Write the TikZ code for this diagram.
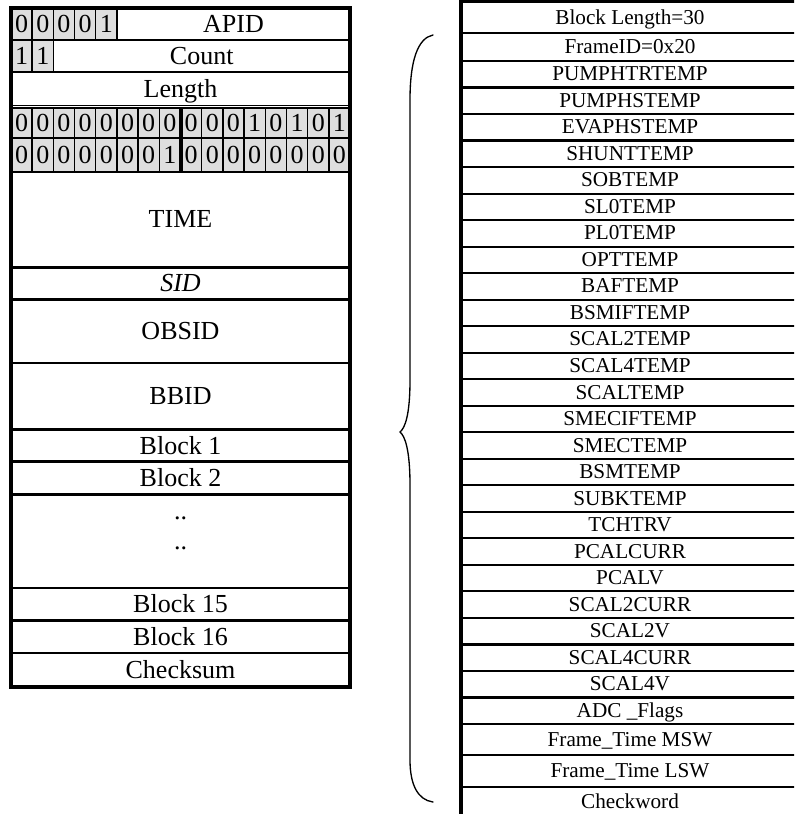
\documentclass[tikz,border=0pt]{standalone}
\usepackage{fontspec}
\setmainfont{Liberation Serif}
\usepackage{tikz}
\usetikzlibrary{calc}
\definecolor{bitgray}{HTML}{DEDEDE}

\begin{document}
\begin{tikzpicture}[
  x=0.75pt,y=-0.75pt,
  every node/.style={inner sep=0pt},
  lefttext/.style={font=\fontsize{19.5}{22}\selectfont,text height=14pt,text depth=2pt},
  righttext/.style={font=\fontsize{15.9}{18}\selectfont,text height=11.4pt,text depth=1.6pt},
  outer/.style={line width=3.4pt},
  rowline/.style={line width=1.6pt},
  bitline/.style={line width=1.1pt},
  midline/.style={line width=3pt},
  bracestyle/.style={line width=1pt,line cap=round}
]
\useasboundingbox (0,0) rectangle (794,814);
\clip (0,0) rectangle (794,814);

% packet header, grey bit fields
\fill[bitgray] (11,8) rectangle (116.95,40);
\fill[bitgray] (11,40) rectangle (53.38,72);
\fill[bitgray] (11,107.8) rectangle (350,172);

\foreach \b [count=\i] in {0,0,0,0,1}
  \node[lefttext] (ver\i) at ({11+21.19*(\i-0.5)},24) {\b};
\foreach \b [count=\i] in {1,1}
  \node[lefttext] (seq\i) at ({11+21.19*(\i-0.5)},56) {\b};
\foreach \b [count=\i] in {0,0,0,0,0,0,0,0,0,0,0,1,0,1,0,1}
  \node[lefttext] (bita\i) at ({11+21.19*(\i-0.5)},123) {\b};
\foreach \b [count=\i] in {0,0,0,0,0,0,0,1,0,0,0,0,0,0,0,0}
  \node[lefttext] (bitb\i) at ({11+21.19*(\i-0.5)},155.5) {\b};

\node[lefttext] (apid) at (233.5,24) {APID};
\node[lefttext] (count) at (201.7,56) {Count};
\node[lefttext] (length) at (180.5,89) {Length};
\node[lefttext] (time) at (180.5,219.5) {TIME};
\node[lefttext] (sid) at (180.5,283.5) {\itshape SID};
\node[lefttext] (obsid) at (180.5,331.5) {OBSID};
\node[lefttext] (bbid) at (180.5,396) {BBID};
\node[lefttext] (blkone) at (180.5,446) {Block 1};
\node[lefttext] (blktwo) at (180.5,478) {Block 2};
\node[lefttext] (dotsa) at (180.5,511) {..};
\node[lefttext] (dotsb) at (180.5,541) {..};
\node[lefttext] (blkfifteen) at (180.5,604) {Block 15};
\node[lefttext] (blksixteen) at (180.5,637) {Block 16};
\node[lefttext] (checksum) at (180.5,670) {Checksum};

\foreach \y in {40,72,138,172,267.5,299.5,363,429.5,461.5,494.5,588,620.5,653}
  \draw[rowline] (11,\y) -- (350,\y);
\draw[bitline] (11,105.3) -- (350,105.3);
\draw[bitline] (11,107.8) -- (350,107.8);
\foreach \k in {1,...,5}
  \draw[bitline] ({11+21.19*\k},8) -- ({11+21.19*\k},40);
\foreach \k in {1,2}
  \draw[bitline] ({11+21.19*\k},40) -- ({11+21.19*\k},72);
\foreach \k in {1,...,15}
  \draw[bitline] ({11+21.19*\k},107.8) -- ({11+21.19*\k},172);
\draw[midline] ({11+21.19*8},107.8) -- ({11+21.19*8},172);
\draw[outer] (11,8) rectangle (350,687);

% block layout
\node[righttext] (blklen) at (630,17.5) {Block Length=30};
\node[righttext] (frameid) at (630,47) {FrameID=0x20};
\foreach \name [count=\i] in {PUMPHTRTEMP,PUMPHSTEMP,EVAPHSTEMP,SHUNTTEMP,SOBTEMP,
    SL0TEMP,PL0TEMP,OPTTEMP,BAFTEMP,BSMIFTEMP,SCAL2TEMP,SCAL4TEMP,SCALTEMP,
    SMECIFTEMP,SMECTEMP,BSMTEMP,SUBKTEMP,TCHTRV,PCALCURR,PCALV,SCAL2CURR,
    SCAL2V,SCAL4CURR,SCAL4V,ADC \_Flags}
  \node[righttext] (sig\i) at (630,{61+26.52*(\i-0.5)}) {\name};
\node[righttext] (msw) at (630,739.7) {Frame\_Time MSW};
\node[righttext] (lsw) at (630,771) {Frame\_Time LSW};
\node[righttext] (checkword) at (630,802) {Checkword};

\draw[rowline] (461,33) -- (800,33);
\foreach \k in {0,...,25}
  \draw[rowline] (461,{61+26.52*\k}) -- (800,{61+26.52*\k});
\draw[rowline] (461,755.3) -- (800,755.3);
\draw[rowline] (461,786.7) -- (800,786.7);
\draw[line width=2.6pt] (459,1.6) -- (800,1.6);
\draw[outer] (461,0) -- (461,820);

% brace
\draw[bracestyle] (433,35) .. controls (418,38) and (410,60) .. (410,100)
  -- (410,380) .. controls (410,415) and (405,428) .. (400,432)
  .. controls (405,436) and (410,450) .. (410,485)
  -- (410,760) .. controls (410,785) and (418,800) .. (433,802);
\end{tikzpicture}
\end{document}
